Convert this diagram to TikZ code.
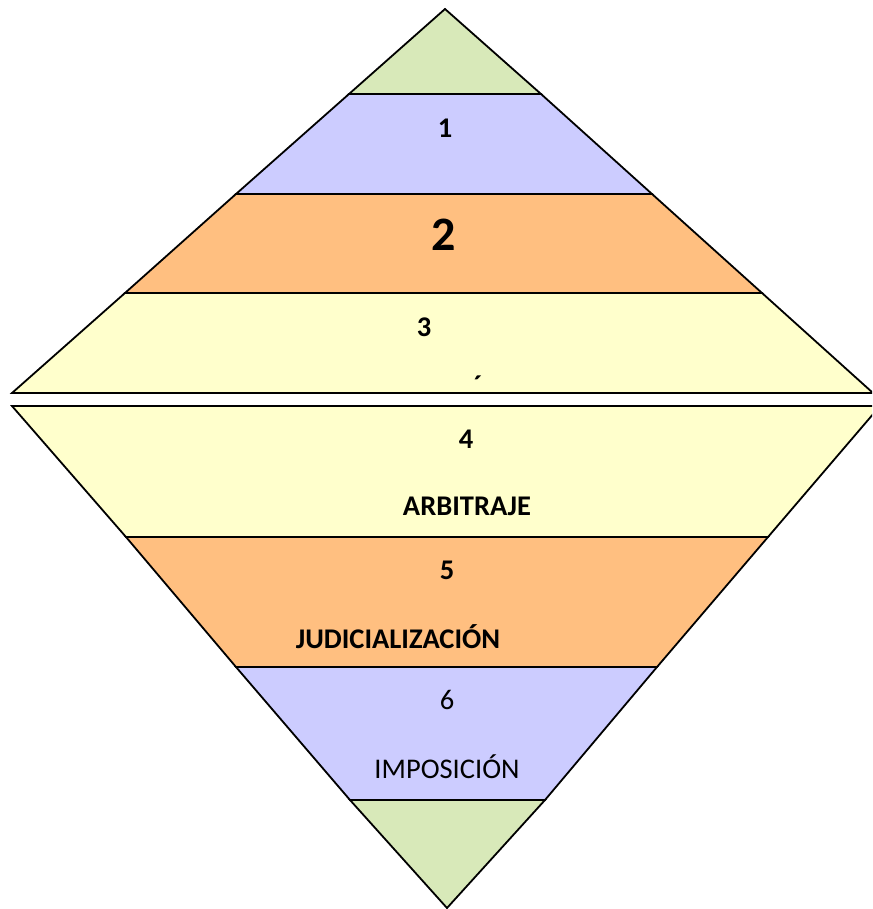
\documentclass[tikz,border=0pt]{standalone}
\usepackage{fontspec}
\setmainfont{Carlito}
\usepackage{xcolor}
\usepackage{tikz}

\definecolor{capaverde}{HTML}{D8E9B9}
\definecolor{capaazul}{HTML}{CCCCFF}
\definecolor{capanaranja}{HTML}{FFBF80}
\definecolor{capaamarilla}{HTML}{FFFFCC}

\tikzset{
  capa/.style={draw=black, line width=1.8pt, line join=miter},
  etiqueta/.style={font=\bfseries\fontsize{28.5}{34}\selectfont, inner sep=0pt},
  etiquetafina/.style={font=\fontsize{28.5}{34}\selectfont, inner sep=0pt}
}

\begin{document}
\begin{tikzpicture}[x=1pt,y=-1pt]
\useasboundingbox (0,0) rectangle (872,909);
\clip (0,0) rectangle (872,909);
% mitad superior
\draw[capa, fill=capaverde] (445,9) -- (349,94) -- (541,94) -- cycle;
\draw[capa, fill=capaazul] (349,94) -- (236,194) -- (652,194) -- (541,94) -- cycle;
\draw[capa, fill=capanaranja] (236,194) -- (125,293) -- (762,293) -- (652,194) -- cycle;
\draw[capa, fill=capaamarilla] (125,293) -- (12,393) -- (873,393) -- (762,293) -- cycle;
% mitad inferior
\draw[capa, fill=capaamarilla] (12,406) -- (126,537) -- (768,537) -- (880,406) -- cycle;
\draw[capa, fill=capanaranja] (126,537) -- (236,667) -- (657,667) -- (768,537) -- cycle;
\draw[capa, fill=capaazul] (236,667) -- (350,800) -- (545,800) -- (657,667) -- cycle;
\draw[capa, fill=capaverde] (350,800) -- (447,908) -- (545,800) -- cycle;
% textos
\node[etiqueta] (uno) at (445,128) {1};
\node[etiqueta, font=\bfseries\fontsize{48}{54}\selectfont] (dos) at (444,235) {2};
\node[etiqueta] (tres) at (424,327) {3};
\node[etiqueta] (acento) at (478,386) {´};
\node[etiqueta] (cuatro) at (466,439) {4};
\node[etiqueta] (arbitraje) at (467,506) {ARBITRAJE};
\node[etiqueta] (cinco) at (447,570) {5};
\node[etiqueta] (judicial) at (398,637) {JUDICIALIZACIÓN};
\node[etiquetafina] (seis) at (447,700) {6};
\node[etiquetafina] (imposicion) at (447,767) {IMPOSICIÓN};
\end{tikzpicture}
\end{document}
